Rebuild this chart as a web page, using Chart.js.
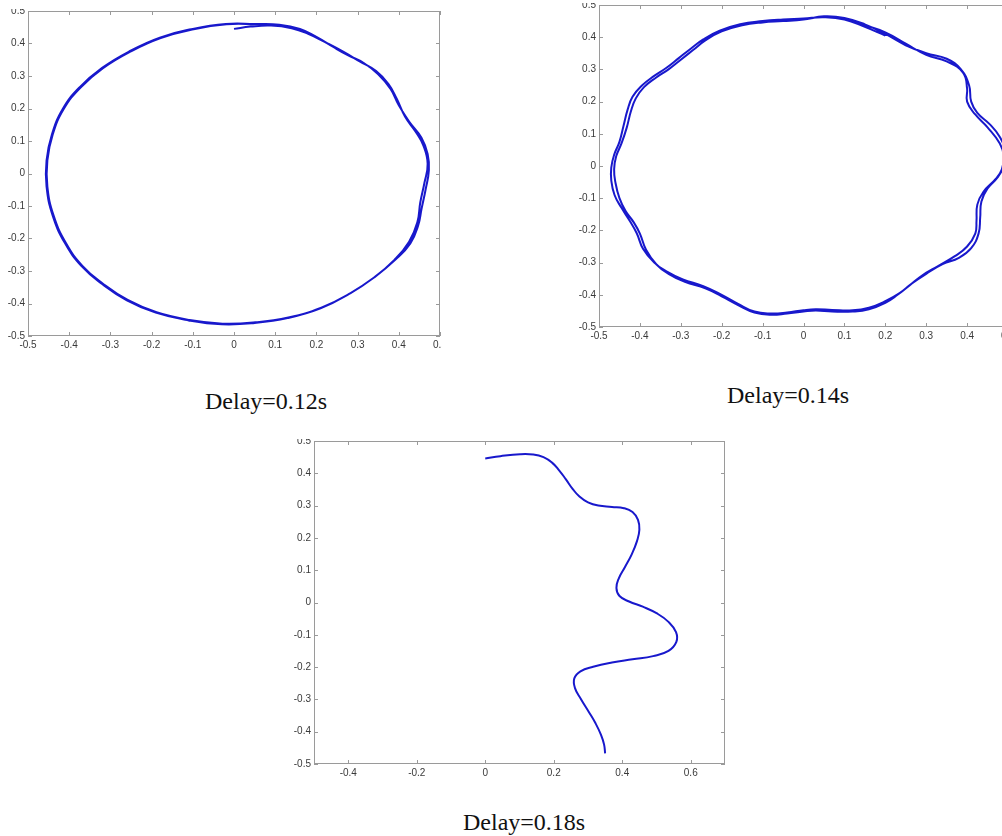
<!DOCTYPE html>
<html>
<head>
<meta charset="utf-8">
<title>Delay trajectories</title>
<script src="https://cdn.jsdelivr.net/npm/chart.js@4.4.1/dist/chart.umd.min.js"></script>
<style>
  html, body { margin: 0; padding: 0; background: #ffffff; }
  body { width: 1002px; height: 836px; position: relative; overflow: hidden; }
  .clip { position: absolute; overflow: hidden; }
  .clip canvas { position: absolute; }
  .caption {
    position: absolute; white-space: nowrap;
    font-family: "Liberation Serif", "Times New Roman", serif;
    font-size: 24px; line-height: 24px; color: #111;
  }
</style>
</head>
<body>
<div class="clip" id="w1"><canvas id="c1"></canvas></div>
<div class="clip" id="w2"><canvas id="c2"></canvas></div>
<div class="clip" id="w3"><canvas id="c3"></canvas></div>
<div class="caption" style="left:205px; top:389px;">Delay=0.12s</div>
<div class="caption" style="left:727px; top:383px;">Delay=0.14s</div>
<div class="caption" style="left:463px; top:810px;">Delay=0.18s</div>

<script>
// ---- trajectory, delay = 0.12 s (almost two laps of a near-circle) ----
const x012 = [0.000, 0.040, 0.090, 0.140, 0.180, 0.220, 0.265, 0.305, 0.345, 0.375, 0.395, 0.415, 0.440, 0.460, 0.470,
  0.462, 0.452, 0.445, 0.425, 0.390, 0.340, 0.280, 0.210, 0.130, 0.050, -0.030, -0.110, -0.190, -0.260, -0.320,
  -0.370, -0.410, -0.440, -0.455, -0.455, -0.442, -0.415, -0.375, -0.320, -0.255, -0.180, -0.100, -0.020, 0.050,
  0.110, 0.160, 0.200, 0.240, 0.275, 0.315, 0.350, 0.380, 0.400, 0.425, 0.455, 0.470, 0.473, 0.465, 0.455, 0.447,
  0.428, 0.392, 0.342, 0.283, 0.212, 0.132, 0.052, -0.028, -0.108, -0.188, -0.258, -0.318, -0.368, -0.408, -0.438,
  -0.453, -0.453, -0.440, -0.413, -0.373, -0.318, -0.253, -0.178, -0.098, -0.018, 0.050, 0.100, 0.150];
const y012 = [0.445, 0.452, 0.455, 0.447, 0.430, 0.405, 0.375, 0.345, 0.315, 0.275, 0.230, 0.175, 0.130, 0.085, 0.030,
  -0.030, -0.090, -0.150, -0.210, -0.265, -0.320, -0.370, -0.415, -0.445, -0.460, -0.464, -0.452, -0.428, -0.390, -0.340,
  -0.285, -0.215, -0.130, -0.040, 0.040, 0.120, 0.200, 0.265, 0.325, 0.375, 0.418, 0.445, 0.460, 0.460,
  0.458, 0.445, 0.420, 0.390, 0.365, 0.340, 0.305, 0.260, 0.210, 0.160, 0.110, 0.060, 0.010, -0.050, -0.110, -0.160,
  -0.215, -0.265, -0.318, -0.368, -0.413, -0.443, -0.458, -0.462, -0.451, -0.427, -0.389, -0.339, -0.284, -0.214, -0.129,
  -0.040, 0.040, 0.120, 0.199, 0.264, 0.324, 0.374, 0.417, 0.444, 0.459, 0.459, 0.455, 0.447];

// ---- trajectory, delay = 0.14 s (wavy loop, laps drifting apart) ----
const x014 = [0.000, 0.050, 0.100, 0.150, 0.200, 0.250, 0.300, 0.350, 0.390, 0.400, 0.400, 0.420, 0.450, 0.480, 0.490,
  0.485, 0.470, 0.440, 0.425, 0.423, 0.420, 0.400, 0.370, 0.330, 0.290, 0.260, 0.230, 0.200, 0.160, 0.120, 0.070,
  0.030, 0.000, -0.040, -0.080, -0.120, -0.160, -0.200, -0.240, -0.290, -0.330, -0.360, -0.385, -0.400, -0.415,
  -0.435, -0.450, -0.460, -0.463, -0.458, -0.445, -0.432, -0.422, -0.410, -0.390, -0.360, -0.330, -0.300, -0.270,
  -0.240, -0.200, -0.150, -0.100, -0.050, 0.000,
  0.050, 0.100, 0.150, 0.200, 0.250, 0.300, 0.350, 0.385, 0.405, 0.410, 0.425, 0.455, 0.480, 0.495,
  0.490, 0.475, 0.450, 0.435, 0.432, 0.428, 0.410, 0.380, 0.340, 0.300, 0.265, 0.235, 0.200, 0.160, 0.120, 0.070,
  0.030, 0.000, -0.040, -0.080, -0.120, -0.160, -0.200, -0.245, -0.295, -0.335, -0.365, -0.392, -0.408, -0.425,
  -0.445, -0.462, -0.470, -0.470, -0.463, -0.450, -0.440, -0.430, -0.418, -0.395, -0.365, -0.335, -0.305, -0.275,
  -0.245, -0.205, -0.155, -0.100, -0.050, 0.000,
  0.050, 0.100, 0.150, 0.200];
const y014 = [0.455, 0.463, 0.457, 0.437, 0.415, 0.380, 0.345, 0.325, 0.290, 0.240, 0.200, 0.160, 0.120, 0.070, 0.030,
  -0.010, -0.040, -0.080, -0.120, -0.170, -0.210, -0.250, -0.280, -0.310, -0.340, -0.370, -0.400, -0.425, -0.445, -0.452, -0.452,
  -0.449, -0.452, -0.458, -0.462, -0.455, -0.432, -0.405, -0.380, -0.360, -0.335, -0.305, -0.260, -0.210, -0.175,
  -0.140, -0.100, -0.050, -0.010, 0.030, 0.070, 0.120, 0.170, 0.210, 0.245, 0.275, 0.300, 0.330, 0.360,
  0.390, 0.418, 0.437, 0.446, 0.450, 0.455,
  0.465, 0.460, 0.440, 0.410, 0.375, 0.350, 0.333, 0.300, 0.250, 0.200, 0.165, 0.130, 0.090, 0.040,
  0.000, -0.035, -0.070, -0.110, -0.160, -0.210, -0.255, -0.285, -0.305, -0.335, -0.365, -0.395, -0.420, -0.440, -0.448, -0.447,
  -0.445, -0.448, -0.455, -0.458, -0.452, -0.428, -0.400, -0.373, -0.352, -0.327, -0.300, -0.258, -0.208, -0.170,
  -0.130, -0.090, -0.045, -0.005, 0.035, 0.075, 0.125, 0.175, 0.215, 0.250, 0.280, 0.305, 0.335, 0.365,
  0.393, 0.420, 0.440, 0.450, 0.455, 0.458,
  0.462, 0.455, 0.432, 0.405];

// ---- trajectory, delay = 0.18 s (single open sweep) ----
const x018 = [0.000, 0.044, 0.102, 0.140, 0.170, 0.195, 0.215, 0.235, 0.255, 0.275, 0.300, 0.330, 0.370, 0.405,
  0.430, 0.446, 0.450, 0.443, 0.428, 0.408, 0.390, 0.383, 0.392, 0.420, 0.460, 0.500, 0.535, 0.557, 0.558,
  0.535, 0.490, 0.430, 0.370, 0.315, 0.278, 0.260, 0.262, 0.280, 0.302, 0.322, 0.338, 0.347, 0.350];
const y018 = [0.446, 0.453, 0.459, 0.458, 0.450, 0.433, 0.410, 0.382, 0.352, 0.328, 0.310, 0.300, 0.296, 0.292,
  0.280, 0.256, 0.225, 0.190, 0.150, 0.110, 0.075, 0.045, 0.020, 0.003, -0.013, -0.033, -0.060, -0.092, -0.122,
  -0.150, -0.166, -0.176, -0.186, -0.199, -0.213, -0.235, -0.265, -0.300, -0.338, -0.374, -0.410, -0.440, -0.467];

// ---- tick values ----
const yTicks = [-0.5, -0.4, -0.3, -0.2, -0.1, 0, 0.1, 0.2, 0.3, 0.4, 0.5];
const xTicksUnit = [-0.5, -0.4, -0.3, -0.2, -0.1, 0, 0.1, 0.2, 0.3, 0.4, 0.5];
const xTicksWide = [-0.4, -0.2, 0, 0.2, 0.4, 0.6];

const LINE_COLOR = '#1818cc';
const AXIS_COLOR = '#9a9a9a';
const LABEL_COLOR = '#3a3a3a';
const Y_AXIS_W = 40, X_AXIS_H = 30, PAD = 12;

// frame with inward tick marks on all four sides
const framePlugin = {
  id: 'frame',
  beforeDatasetsDraw(chart) {
    const { ctx, chartArea: a, scales } = chart;
    ctx.save();
    ctx.strokeStyle = AXIS_COLOR;
    ctx.lineWidth = 1;
    ctx.strokeRect(a.left + 0.5, a.top + 0.5, a.right - a.left - 1, a.bottom - a.top - 1);
    const len = 4;
    ctx.beginPath();
    scales.x.ticks.forEach(t => {
      const p = Math.round(scales.x.getPixelForValue(t.value)) + 0.5;
      ctx.moveTo(p, a.bottom); ctx.lineTo(p, a.bottom - len);
      ctx.moveTo(p, a.top); ctx.lineTo(p, a.top + len);
    });
    scales.y.ticks.forEach(t => {
      const p = Math.round(scales.y.getPixelForValue(t.value)) + 0.5;
      ctx.moveTo(a.left, p); ctx.lineTo(a.left + len, p);
      ctx.moveTo(a.right, p); ctx.lineTo(a.right - len, p);
    });
    ctx.stroke();
    ctx.restore();
  }
};

const fmt = v => String(Math.round(v * 10) / 10);

function makeChart(canvasId, wrapId, xs, ys, xMin, xMax, xTickVals, area, clip) {
  const wrap = document.getElementById(wrapId);
  wrap.style.left = clip.l + 'px';
  wrap.style.top = clip.t + 'px';
  wrap.style.width = (clip.r - clip.l) + 'px';
  wrap.style.height = (clip.b - clip.t) + 'px';

  const cv = document.getElementById(canvasId);
  const w = (area.r - area.l) + Y_AXIS_W + PAD;
  const h = (area.b - area.t) + PAD + X_AXIS_H;
  cv.width = w; cv.height = h;
  cv.style.width = w + 'px'; cv.style.height = h + 'px';
  cv.style.left = (area.l - Y_AXIS_W - clip.l) + 'px';
  cv.style.top = (area.t - PAD - clip.t) + 'px';

  const pts = xs.map((x, i) => ({ x: x, y: ys[i] }));
  const tickFont = { family: '"Liberation Sans", Arial, sans-serif', size: 10 };

  return new Chart(cv, {
    type: 'scatter',
    data: {
      datasets: [{
        data: pts,
        showLine: true,
        borderColor: LINE_COLOR,
        borderWidth: 2,
        pointRadius: 0,
        tension: 0.45,
        fill: false
      }]
    },
    options: {
      responsive: false,
      animation: false,
      devicePixelRatio: 1,
      layout: { padding: { left: 0, top: PAD, right: PAD, bottom: 0 } },
      plugins: { legend: { display: false }, tooltip: { enabled: false } },
      scales: {
        x: {
          type: 'linear', min: xMin, max: xMax,
          grid: { display: false, drawTicks: false },
          border: { display: false },
          ticks: { font: tickFont, color: LABEL_COLOR, padding: 3, maxRotation: 0, autoSkip: false, callback: fmt },
          afterBuildTicks: s => { s.ticks = xTickVals.map(v => ({ value: v })); },
          afterFit: s => { s.height = X_AXIS_H; s.paddingLeft = 0; s.paddingRight = 0; }
        },
        y: {
          type: 'linear', min: -0.5, max: 0.5,
          grid: { display: false, drawTicks: false },
          border: { display: false },
          ticks: { font: tickFont, color: LABEL_COLOR, padding: 3, autoSkip: false, callback: fmt },
          afterBuildTicks: s => { s.ticks = yTicks.map(v => ({ value: v })); },
          afterFit: s => { s.width = Y_AXIS_W; s.paddingTop = 0; s.paddingBottom = 0; }
        }
      }
    },
    plugins: [framePlugin]
  });
}

makeChart('c1', 'w1', x012, y012, -0.5, 0.5, xTicksUnit,
  { l: 28, t: 11, r: 440, b: 336 }, { l: 0, t: 9, r: 442, b: 360 });
makeChart('c2', 'w2', x014, y014, -0.5, 0.5, xTicksUnit,
  { l: 599, t: 5, r: 1008, b: 327 }, { l: 540, t: 3, r: 1002, b: 350 });
makeChart('c3', 'w3', x018, y018, -0.5, 0.7, xTicksWide,
  { l: 314, t: 441, r: 725, b: 764 }, { l: 260, t: 439, r: 760, b: 790 });
</script>
</body>
</html>
